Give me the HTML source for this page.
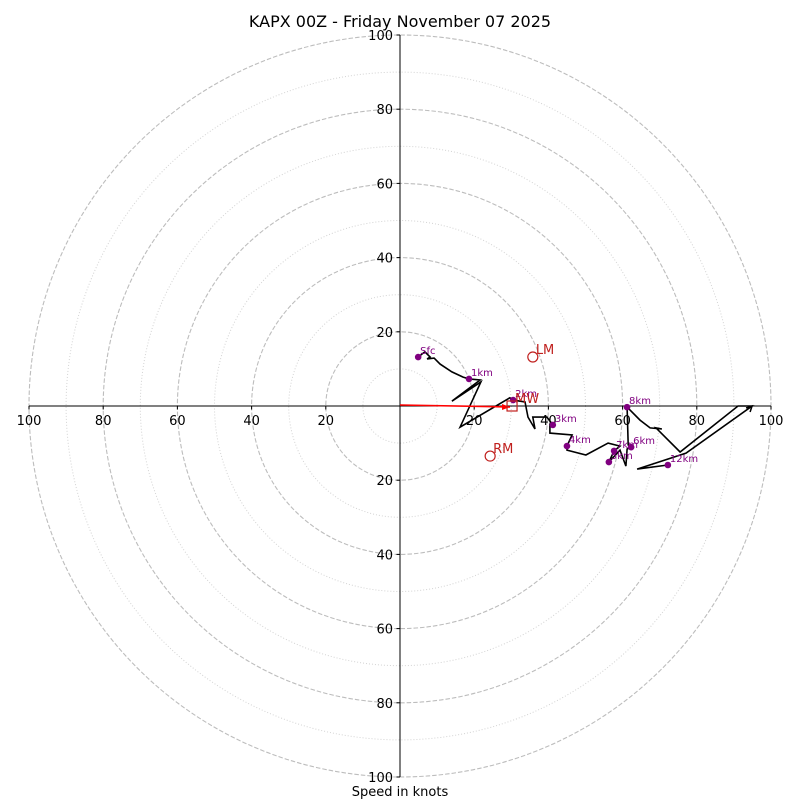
<!DOCTYPE html>
<html><head><meta charset="utf-8"><style>
html,body{margin:0;padding:0;background:#fff}
svg{display:block;font-family:"DejaVu Sans","Liberation Sans",sans-serif}
</style></head><body>
<svg id="chart" width="800" height="800" viewBox="0 0 800 800" xmlns="http://www.w3.org/2000/svg">
<text x="400" y="27" text-anchor="middle" font-size="16">KAPX 00Z - Friday November 07 2025</text>
<text x="400" y="796" text-anchor="middle" font-size="13">Speed in knots</text>
<g id="rings"></g><g id="axes"></g><g id="trace"></g><g id="marks"></g>
</svg>
<script>
const ringsDashed=[20,40,60,80,100];
const ringsDotted=[10,30,50,70,90];
const tickValues=[20,40,60,80,100];
const traceU=[4.9,6.7,8.1,7.3,9.2,10.8,14.0,17.0,18.6,21.6,14.0,21.8,16.2,29.6,30.5,33.7,34.5,36.4,35.8,39.6,41.2,40.4,40.4,46.4,45.0,45.0,50.1,56.1,59.3,57.7,56.3,59.3,60.9,61.2,62.3,61.5,61.2,64.7,67.4,70.6,69.0,75.5,91.1,94.9,77.1,63.9,72.2];
const traceV=[13.2,14.6,13.2,12.7,12.9,11.3,9.2,7.8,7.3,7.0,1.3,6.5,-5.7,2.2,1.6,1.1,-3.0,-6.2,-3.0,-3.0,-5.1,-4.9,-7.3,-7.8,-10.8,-11.9,-13.2,-10.0,-10.8,-12.1,-15.1,-11.9,-16.2,-11.6,-11.1,-10.5,-0.3,-3.8,-5.9,-6.2,-5.9,-12.4,0,0,-12.7,-17.0,-15.9];
const levelLabels=["Sfc","1km","2km","3km","4km","5km","6km","7km","8km","12km"];
const levelU=[4.9,18.6,30.5,41.2,45.0,56.3,62.3,57.7,61.2,72.2];
const levelV=[13.2,7.3,1.6,-5.1,-10.8,-15.1,-11.1,-12.1,-0.3,-15.9];
const motionLabels=["LM","RM","MW"];
const motionU=[35.8,24.3,30.2];
const motionV=[13.2,-13.5,0];

const NS="http://www.w3.org/2000/svg";
const cx=400,cy=406,s=3.71;
const X=u=>cx+u*s, Y=v=>cy-v*s;
function mk(tag,attrs,parent,txt){const e=document.createElementNS(NS,tag);for(const k in attrs)e.setAttribute(k,attrs[k]);if(txt!==undefined)e.textContent=txt;document.getElementById(parent).appendChild(e);return e;}
ringsDashed.forEach(r=>{const e=mk('circle',{cx:cx,cy:cy,r:r*s,fill:'none',stroke:'#bdbdbd','stroke-width':1.1,'stroke-dasharray':'4.5,2'},'rings');

});
ringsDotted.forEach(r=>{const e=mk('circle',{cx:cx,cy:cy,r:r*s,fill:'none',stroke:'#d3d3d3','stroke-width':1,'stroke-dasharray':'1,2'},'rings');

});
let a=mk('line',{x1:cx,y1:Y(100),x2:cx,y2:Y(-100),stroke:'#000','stroke-width':1},'axes');


a=mk('line',{x1:X(-100),y1:cy,x2:X(100),y2:cy,stroke:'#000','stroke-width':1},'axes');


tickValues.forEach(t=>{[-1,1].forEach(sg=>{
 let tl=mk('line',{x1:X(sg*t),y1:cy,x2:X(sg*t),y2:cy+3.5,stroke:'#000'},'axes');
 
 
 let tx=mk('text',{x:X(sg*t),y:cy+19,'text-anchor':'middle','font-size':13},'axes',String(t));
 
 
 tl=mk('line',{x1:cx-3.5,y1:Y(sg*t),x2:cx,y2:Y(sg*t),stroke:'#000'},'axes');
 
 
 tx=mk('text',{x:cx-7,y:Y(sg*t)+5,'text-anchor':'end','font-size':13},'axes',String(t));
 
 
});});
const pts=traceU.map((u,i)=>X(u).toFixed(1)+','+Y(traceV[i]).toFixed(1)).join(' ');
let p=mk('polyline',{points:pts,fill:'none',stroke:'#000','stroke-width':1.6,'stroke-linejoin':'miter'},'trace');


// small arrowhead at the far tip of the trace
{const i=43;const x=X(traceU[i]),y=Y(traceV[i]);
 const ar=mk('path',{d:`M${x-6},${y+2} L${x},${y} L${x-2},${y+6}`,fill:'none',stroke:'#000','stroke-width':1.5},'trace');
 
 }
const mwx=X(motionU[2]),mwy=Y(motionV[2]);
let rl=mk('line',{x1:cx,y1:cy-1,x2:mwx-2,y2:mwy+1,stroke:'red','stroke-width':1.6},'marks');


let ah=mk('polygon',{points:`${mwx-2},${mwy+1} ${mwx-10},${mwy-2} ${mwx-10},${mwy+4}`,fill:'red'},'marks');


levelLabels.forEach((l,i)=>{
 const d=mk('circle',{cx:X(levelU[i]),cy:Y(levelV[i]),r:3.3,fill:'purple'},'marks');
 
 
 const t=mk('text',{x:X(levelU[i])+2,y:Y(levelV[i])-3,'font-size':10,fill:'purple'},'marks',l);
 
 
});
motionLabels.forEach((l,i)=>{
 const x=X(motionU[i]),y=Y(motionV[i]);
 let m;
 if(l==='MW') m=mk('rect',{x:x-5,y:y-5,width:10,height:10,fill:'none',stroke:'#c0201e','stroke-width':1.2},'marks');
 else m=mk('circle',{cx:x,cy:y,r:5,fill:'none',stroke:'#c0201e','stroke-width':1.2},'marks');
 
 
 const t=mk('text',{x:x+3,y:y-3,'font-size':13,fill:'#c0201e'},'marks',l);
 
 
});
</script>
</body></html>
